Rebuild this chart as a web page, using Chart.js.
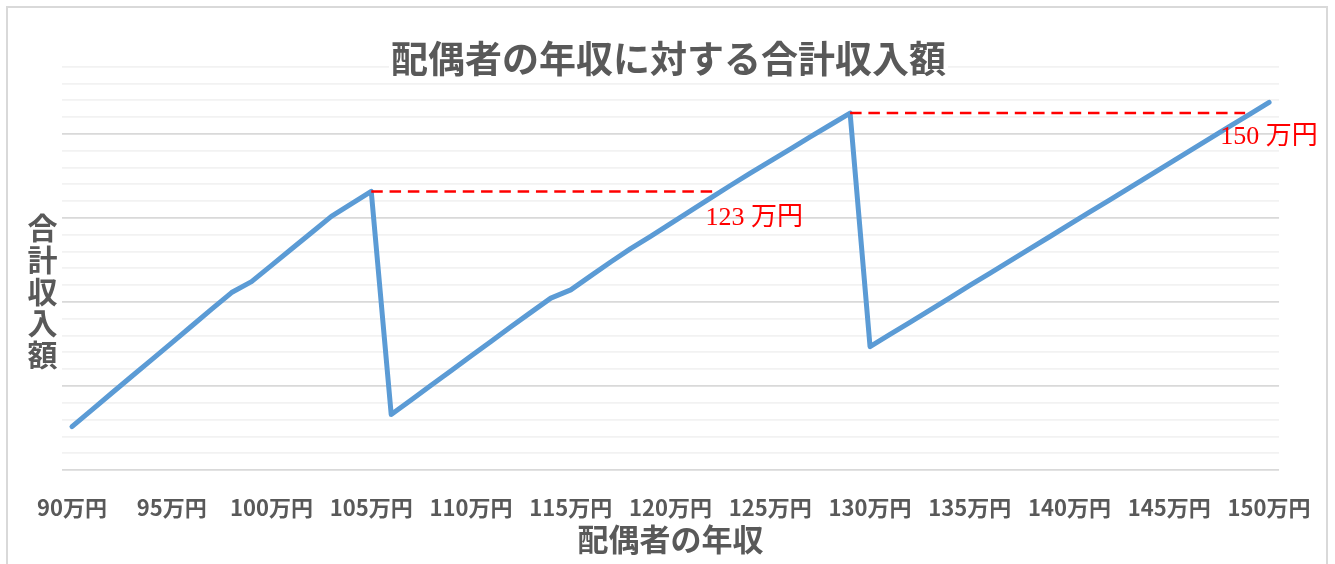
<!DOCTYPE html>
<html lang="ja">
<head>
<meta charset="utf-8">
<script src="https://cdn.jsdelivr.net/npm/chart.js@4.4.1/dist/chart.umd.min.js"></script>
<style>
  html, body { margin: 0; padding: 0; background: #fff; }
  #wrap { position: relative; width: 1335px; height: 564px; overflow: hidden; }
  #frame { position: absolute; left: 6px; top: 6px; width: 1322px; height: 620px; box-sizing: border-box; border: 2px solid #d9d9d9; }
  #chart { position: absolute; left: 0; top: 0; }
</style>
</head>
<body>
<div id="wrap">
  <canvas id="chart" width="1335" height="564"></canvas>
  <div id="frame"></div>
</div>
<script>
// 配偶者の年収（万円）
const categories = [
  90, 91, 92, 93, 94, 95, 96, 97, 98, 99,
  100, 101, 102, 103, 104, 105, 106, 107, 108, 109,
  110, 111, 112, 113, 114, 115, 116, 117, 118, 119,
  120, 121, 122, 123, 124, 125, 126, 127, 128, 129,
  130, 131, 132, 133, 134, 135, 136, 137, 138, 139,
  140, 141, 142, 143, 144, 145, 146, 147, 148, 149, 150
];

// 合計収入額（目盛なし、相対値）
const totalIncome = [
  2.58, 3.58, 4.58, 5.58, 6.57, 7.57, 8.57, 9.57, 10.56, 11.21,
  12.18, 13.15, 14.12, 15.09, 15.84, 16.58, 3.30, 4.17, 5.04, 5.91,
  6.78, 7.65, 8.52, 9.38, 10.23, 10.72, 11.55, 12.38, 13.17, 13.90,
  14.66, 15.42, 16.18, 16.93, 17.66, 18.38, 19.10, 19.82, 20.53, 21.24,
  7.34, 8.07, 8.79, 9.52, 10.25, 10.98, 11.70, 12.43, 13.16, 13.88,
  14.61, 15.34, 16.06, 16.79, 17.52, 18.25, 18.97, 19.70, 20.43, 21.15, 21.88
];

const tickLabels = ['90万円', '95万円', '100万円', '105万円', '110万円', '115万円', '120万円',
                    '125万円', '130万円', '135万円', '140万円', '145万円', '150万円'];

// 赤い破線（ピークから同じ額に戻る年収まで）
const guideFrom = [105, 129];
const guideTo = [122.2, 148.8];
const noteText = ['123 万円', '150 万円'];
const noteX = [121.75, 147.55];
const noteY = [15.0, 19.8];

const chartTitle = '配偶者の年収に対する合計収入額';
const yTitle = ['合', '計', '収', '入', '額'];
const xTitle = '配偶者の年収';

const JP = '"Noto Sans CJK JP", "Noto Sans", sans-serif';
const GRAY = '#595959';

const overlay = {
  id: 'overlay',
  afterDatasetsDraw(chart) {
    const {ctx} = chart;
    const x = chart.scales.x, y = chart.scales.y;
    ctx.save();
    ctx.strokeStyle = '#ff0000';
    ctx.lineWidth = 2.5;
    ctx.setLineDash([11.5, 6.8]);
    for (let i = 0; i < guideFrom.length; i++) {
      const py = y.getPixelForValue(totalIncome[categories.indexOf(guideFrom[i])]);
      ctx.beginPath();
      ctx.moveTo(x.getPixelForValue(guideFrom[i] - categories[0]), py);
      ctx.lineTo(x.getPixelForValue(guideTo[i] - categories[0]), py);
      ctx.stroke();
    }
    ctx.setLineDash([]);
    ctx.fillStyle = '#ff0000';
    ctx.font = '26px "Liberation Serif", "Noto Sans CJK JP", serif';
    ctx.textAlign = 'left';
    ctx.textBaseline = 'middle';
    for (let i = 0; i < noteText.length; i++) {
      ctx.fillText(noteText[i], x.getPixelForValue(noteX[i] - categories[0]), y.getPixelForValue(noteY[i]));
    }
    ctx.restore();
  },
  afterDraw(chart) {
    const {ctx} = chart;
    ctx.save();
    // title with white box over the top gridline
    ctx.font = 'bold 37px ' + JP;
    ctx.textAlign = 'center';
    ctx.textBaseline = 'middle';
    const cx = chart.width / 2 + 1;
    const w = ctx.measureText(chartTitle).width;
    ctx.fillStyle = '#ffffff';
    ctx.fillRect(cx - w / 2 - 2, 40, w + 4, 36);
    ctx.fillStyle = GRAY;
    ctx.fillText(chartTitle, cx, 58.5);
    // vertical y title
    ctx.font = 'bold 30px ' + JP;
    yTitle.forEach((ch, i) => ctx.fillText(ch, 42.5, 228 + i * 31.6));
    ctx.restore();
  }
};

const ctx = document.getElementById('chart').getContext('2d');
const myChart = new Chart(ctx, {
  type: 'line',
  data: {
    labels: categories,
    datasets: [{
      label: '合計収入額',
      data: totalIncome,
      borderColor: '#5b9bd5',
      borderWidth: 5,
      borderCapStyle: 'round',
      borderJoinStyle: 'round',
      pointRadius: 0,
      tension: 0,
      fill: false
    }]
  },
  options: {
    responsive: false,
    animation: false,
    devicePixelRatio: 1,
    layout: { padding: { left: 62, right: 55, top: 66.7, bottom: 0 } },
    plugins: {
      legend: { display: false },
      tooltip: { enabled: false },
      title: { display: false }
    },
    scales: {
      x: {
        offset: true,
        grid: { display: false, drawTicks: false },
        border: { display: false },
        ticks: {
          autoSkip: false,
          maxRotation: 0,
          padding: 24,
          color: GRAY,
          font: { family: JP, size: 22, weight: 'bold' },
          callback: (value, index) => index % 5 === 0 ? tickLabels[index / 5] : ''
        },
        title: {
          display: true,
          text: xTitle,
          color: GRAY,
          font: { family: JP, size: 31, weight: 'bold' },
          padding: { top: 0, bottom: 6 }
        },
        afterFit: (scale) => { scale.height = 94; }
      },
      y: {
        min: 0,
        max: 24,
        border: { display: false },
        ticks: { display: false, stepSize: 1 },
        grid: {
          drawTicks: false,
          lineWidth: 1.75,
          color: (c) => c.tick && c.tick.value % 5 === 0 ? '#d9d9d9' : '#f2f2f2'
        },
        afterFit: (scale) => { scale.width = 0; }
      }
    }
  },
  plugins: [overlay]
});
</script>
</body>
</html>
